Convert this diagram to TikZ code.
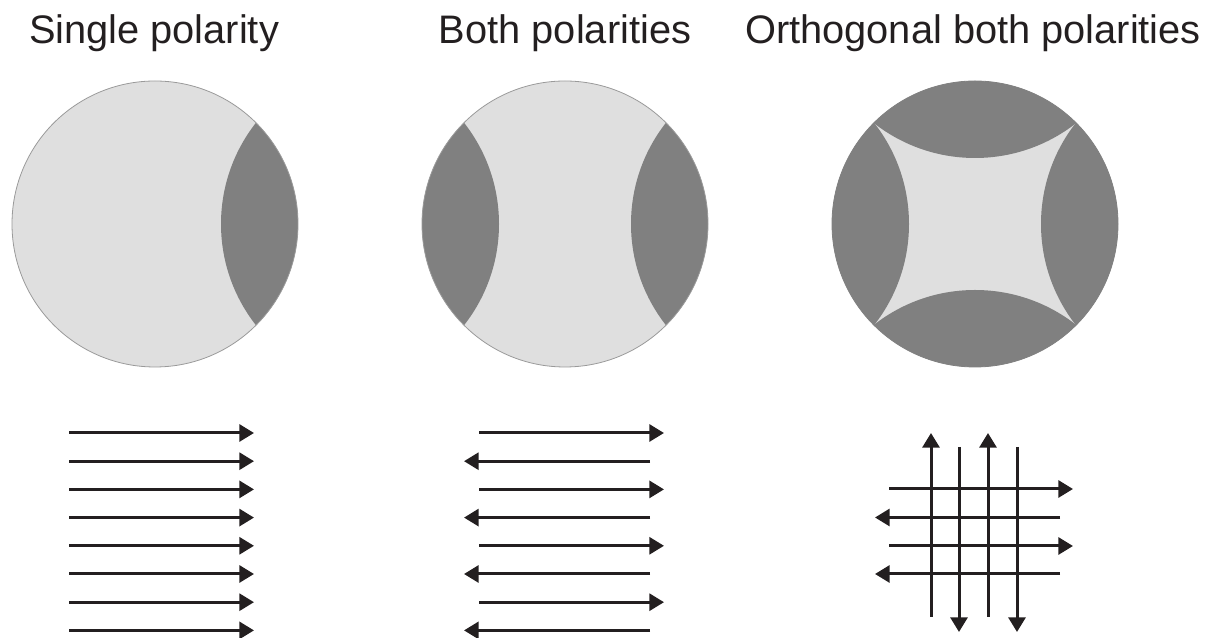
\documentclass[tikz,border=0pt]{standalone}
\usepackage{fontspec}
\setmainfont{Liberation Sans}
\usetikzlibrary{arrows.meta}
\definecolor{lightfill}{HTML}{DFDFDF}
\definecolor{darkfill}{HTML}{808080}
\definecolor{rim}{HTML}{9A9A9A}
\definecolor{ink}{HTML}{231F20}
\begin{document}
\begin{tikzpicture}[x=0.75pt,y=0.75pt,
  title/.style={font=\fontsize{29.85pt}{36pt}\selectfont, anchor=base, inner sep=0pt, text=ink},
  flux/.style={line width=2.25pt, draw=ink, -{Triangle[length=11pt,width=12.75pt]}},
  rimline/.style={draw=rim, line width=0.6pt},
]
\useasboundingbox (0,0) rectangle (1208,638);
% titles
\node[title] (t1) at (154,594) {Single polarity};
\node[title] (t2) at (565,594) {Both polarities};
\node[title] (t3) at (973,594) {Orthogonal both polarities};
% circle 1: single polarity
\fill[lightfill] (155,414) circle[radius=107.25pt];
\begin{scope}
  \clip (155,414) circle[radius=107.25pt];
  \fill[darkfill] (385,414) circle[radius=123pt];
\end{scope}
\draw[rimline] (155,414) circle[radius=107.25pt];
% circle 2: both polarities
\fill[lightfill] (565,414) circle[radius=107.25pt];
\begin{scope}
  \clip (565,414) circle[radius=107.25pt];
  \fill[darkfill] (795,414) circle[radius=123pt];
  \fill[darkfill] (335,414) circle[radius=123pt];
\end{scope}
\draw[rimline] (565,414) circle[radius=107.25pt];
% circle 3: orthogonal both polarities
\fill[lightfill] (975,414) circle[radius=107.25pt];
\begin{scope}
  \clip (975,414) circle[radius=107.25pt];
  \fill[darkfill] (1205,414) circle[radius=123pt];
  \fill[darkfill] (745,414) circle[radius=123pt];
  \fill[darkfill] (975,644) circle[radius=123pt];
  \fill[darkfill] (975,184) circle[radius=123pt];
\end{scope}
\draw[draw=darkfill, line width=0.6pt] (975,414) circle[radius=107.25pt];
% arrows panel 1
\foreach \k in {0,...,7}
  \draw[flux] (69,{205-28.2*\k}) -- (254,{205-28.2*\k});
% arrows panel 2
\foreach \k in {0,2,4,6}
  \draw[flux] (479,{205-28.2*\k}) -- (664,{205-28.2*\k});
\foreach \k in {1,3,5,7}
  \draw[flux] (650,{205-28.2*\k}) -- (464,{205-28.2*\k});
% arrows panel 3
\draw[flux] (889,149) -- (1073,149);
\draw[flux] (1060,120.5) -- (875,120.5);
\draw[flux] (889,92) -- (1073,92);
\draw[flux] (1060,64) -- (875,64);
\draw[flux] (931,21) -- (931,205);
\draw[flux] (959,191) -- (959,6);
\draw[flux] (988,21) -- (988,205);
\draw[flux] (1017,191) -- (1017,6);
\end{tikzpicture}
\end{document}
